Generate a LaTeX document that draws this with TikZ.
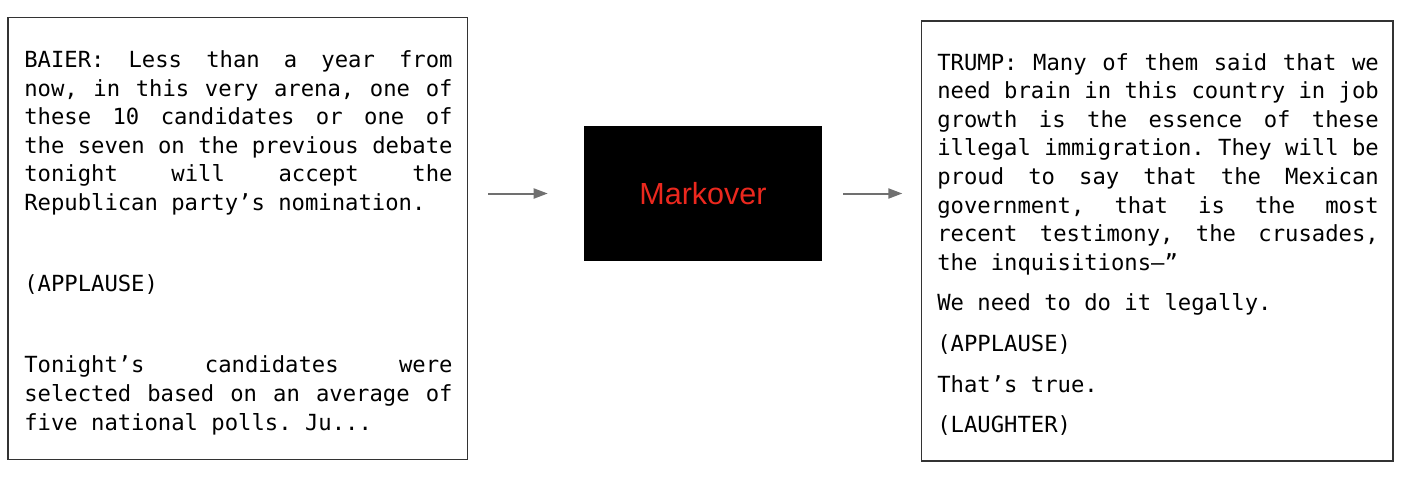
\documentclass[tikz,border=0pt]{standalone}
\usepackage{fontspec}
\usepackage{xcolor}
\usepackage{tikz}
\usetikzlibrary{arrows.meta,positioning}
\newfontfamily\codefont{DejaVu Sans Mono}
\newfontfamily\markfont{Liberation Sans}
\definecolor{figline}{RGB}{51,51,51}
\definecolor{figarrow}{RGB}{112,112,112}
\definecolor{figmark}{RGB}{235,40,30}
\newcommand{\codesetup}{\fontsize{16.66pt}{21.45pt}\selectfont
  \spaceskip=\fontdimen2\font plus 40em\relax\frenchspacing
  \parindent=0pt\parskip=9pt\hbadness=10000\leavevmode\strut}
\tikzset{
  panel/.style ={draw=figline, line width=1pt, fill=white, inner sep=0pt},
  code/.style  ={font=\codefont, align=justify, inner sep=0pt, anchor=north west,
                 execute at begin node=\codesetup},
  blk/.style   ={fill=black, inner sep=0pt, text=figmark,
                 font=\markfont\fontsize{22.9pt}{27pt}\selectfont},
  ptr/.style   ={draw=figarrow, line width=1.5pt, -{Triangle[length=10.5pt,width=7.5pt]}},
}

\begin{document}
\begin{tikzpicture}[x=0.75pt,y=-0.75pt]
  \useasboundingbox (0,0) rectangle (1414,480);
  % input transcript
  \node[panel, minimum width=344.5pt, minimum height=331.35pt] (src) at (237.7,238.4) {};
  \node[code, text width=321.2pt] (srctxt) at (24,47.3) {BAIER: Less than a year from\linebreak
now, in this very arena, one of\linebreak
these 10 candidates or one of\linebreak
the seven on the previous debate\linebreak
tonight will accept the\linebreak
Republican party’s nomination.\par
\mbox{}\par
(APPLAUSE)\par
\mbox{}\par
Tonight’s candidates were\linebreak
selected based on an average of\linebreak
five national polls. Ju...};
  % model
  \node[blk, minimum width=178.5pt, minimum height=101.25pt] (mk) at (703,193.5) {Markover};
  % generated transcript
  \node[panel, minimum width=353.5pt, minimum height=330pt] (dst) at (1157.35,241) {};
  \node[code, text width=331.2pt] (dsttxt) at (937,49.8) {TRUMP: Many of them said that we\linebreak
need brain in this country in job\linebreak
growth is the essence of these\linebreak
illegal immigration. They will be\linebreak
proud to say that the Mexican\linebreak
government, that is the most\linebreak
recent testimony, the crusades,\linebreak
the inquisitions–”\par
We need to do it legally.\par
(APPLAUSE)\par
That’s true.\par
(LAUGHTER)};
  % arrows
  \draw[ptr, shorten <=15pt, shorten >=27pt] (src.east |- mk.west) -- (mk.west);
  \draw[ptr, shorten <=15.75pt, shorten >=14pt] (mk.east) -- (dst.west |- mk.east);
\end{tikzpicture}
\end{document}
